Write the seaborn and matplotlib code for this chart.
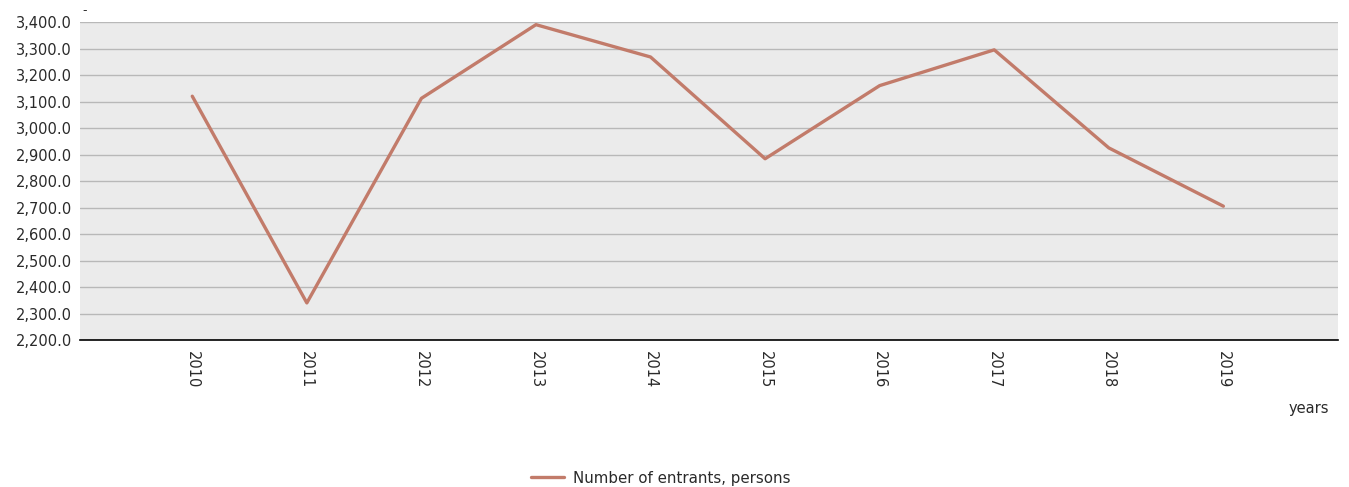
import matplotlib
matplotlib.use("Agg")
import matplotlib.pyplot as plt
import seaborn as sns
import pandas as pd
from matplotlib.ticker import FuncFormatter

# data
years = ["2010", "2011", "2012", "2013", "2014", "2015", "2016", "2017", "2018", "2019"]
entrants = [3120, 2340, 3112, 3390, 3268, 2884, 3160, 3295, 2925, 2705]
series_name = "Number of entrants, persons"

df = pd.DataFrame({"year": years, "value": entrants})

sns.set_style("white")
plt.rcParams["font.family"] = ["DejaVu Sans"]

fig = plt.figure(figsize=(13.49, 4.87), dpi=100)
ax = fig.add_axes([0.0593, 0.3018, 0.9325, 0.653])
ax.set_facecolor("#ebebeb")

sns.lineplot(data=df, x="year", y="value", ax=ax, color="#c27b6a",
             linewidth=2.4, label=series_name, legend=False)

ax.set_xlim(-0.98, 10.0)
ax.set_ylim(2200, 3400)
ax.set_yticks(range(2200, 3401, 100))
ax.yaxis.set_major_formatter(FuncFormatter(lambda v, p: f"{v:,.1f}"))
ax.grid(axis="y", color="#b8b8b8", linewidth=1)
ax.set_axisbelow(True)

for s in ["top", "right", "left"]:
    ax.spines[s].set_visible(False)
ax.spines["bottom"].set_color("black")
ax.spines["bottom"].set_linewidth(1.2)

ax.tick_params(axis="both", length=0, labelsize=10.5, labelcolor="#2a2a2a")
ax.tick_params(axis="y", pad=6)
ax.tick_params(axis="x", pad=8)
plt.setp(ax.get_xticklabels(), rotation=270, va="top", ha="center")

ax.set_xlabel("")
ax.set_ylabel("")
fig.text(0.9703, 0.162, "years", fontsize=10.5, color="#2a2a2a", ha="center", va="center")
fig.text(0.063, 0.978, "-", fontsize=9, color="#2a2a2a", ha="center", va="center")

# legend at the bottom centre
h, l = ax.get_legend_handles_labels()
fig.legend(h, l, loc="center", bbox_to_anchor=(0.49, 0.018), frameon=False,
           fontsize=10.8, handlelength=2.2, handletextpad=0.6, labelcolor="#2a2a2a")

fig.savefig("out.png", dpi=100)
